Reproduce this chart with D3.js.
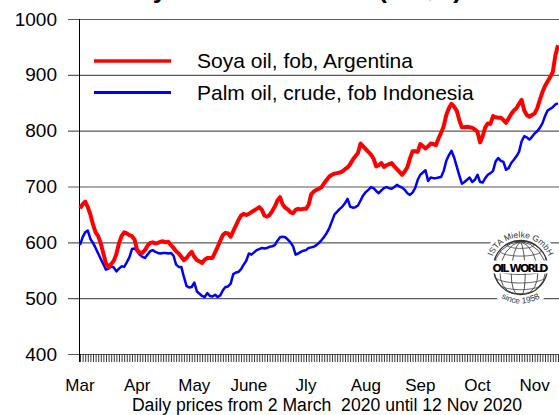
<!DOCTYPE html>
<html>
<head>
<meta charset="utf-8">
<script src="https://cdn.jsdelivr.net/npm/d3@7"></script>
<style>
  body { margin: 0; background: #fff; }
  svg { display: block; font-family: "Liberation Sans", Arial, sans-serif; }
</style>
</head>
<body>
<svg id="chart" width="559" height="415"></svg>
<script>
// daily prices, US$/t, 2 Mar 2020 .. 12 Nov 2020 (trading days)
const soyaOil = [
  661, 668, 673, 663, 650, 632, 618, 611, 598, 580,
  562, 556, 561, 567, 579, 598, 611, 618, 616, 613,
  611, 605, 586, 582, 581, 586, 594, 599, 600, 598,
  599, 601, 602, 600, 601, 595, 590, 584, 580, 574,
  568, 572, 578, 583, 574, 568, 566, 563, 569, 572,
  572, 572, 582, 592, 603, 613, 617, 616, 610, 620,
  630, 640, 648, 651, 649, 651, 654, 657, 660, 663,
  658, 648, 646, 649, 656, 664, 675, 681, 668, 662,
  659, 654, 652, 658, 660, 659, 660, 660, 667, 686,
  691, 694, 696, 699, 706, 712, 718, 721, 723, 724,
  725, 727, 731, 734, 740, 748, 754, 760, 777, 772,
  767, 762, 757, 750, 736, 738, 742, 735, 738, 740,
  742, 736, 731, 726, 721, 727, 734, 750, 763, 763,
  762, 776, 772, 768, 772, 777, 776, 774, 786, 796,
  808, 828, 840, 848, 843, 836, 819, 806, 806, 807,
  806, 805, 802, 798, 779, 790, 806, 813, 812, 826,
  824, 823, 823, 819, 814, 822, 830, 836, 840, 848,
  855, 836, 828, 825, 828, 831, 840, 855, 869, 880,
  888, 896, 905, 935, 953
];
const palmOil = [
  595, 609, 618, 621, 606, 599, 590, 580, 570, 561,
  551, 553, 557, 555, 548, 553, 557, 556, 564, 573,
  588, 589, 584, 578, 574, 572, 578, 584, 586, 583,
  581, 580, 581, 581, 580, 581, 576, 560, 556, 556,
  538, 522, 519, 520, 528, 512, 508, 504, 502, 509,
  504, 503, 506, 502, 505, 514, 520, 521, 526, 543,
  546, 547, 552, 560, 567, 580, 578, 582, 586, 588,
  590, 589, 590, 592, 593, 595, 603, 609, 610, 609,
  605, 600, 593, 578, 580, 583, 585, 586, 590, 591,
  592, 595, 599, 604, 610, 617, 626, 638, 650, 655,
  660, 664, 670, 678, 664, 662, 663, 666, 675, 684,
  690, 694, 699, 697, 692, 688, 693, 697, 699, 697,
  696, 699, 703, 700, 698, 694, 688, 685, 689, 697,
  712, 721, 725, 729, 710, 716, 715, 715, 716, 717,
  728, 746, 756, 764, 752, 736, 720, 705, 708, 712,
  716, 708, 712, 721, 708, 707, 715, 721, 724, 728,
  745, 751, 746, 744, 730, 733, 742, 748, 754, 762,
  781, 790, 788, 784, 789, 795, 799, 805, 813, 826,
  836, 839, 842, 847, 849
];
const seriesNames = ["Soya oil, fob, Argentina", "Palm oil, crude, fob Indonesia"];
const seriesColors = ["#ff0000", "#0000ff"];
const monthLabels = ["Mar", "Apr", "May", "June", "Jly", "Aug", "Sep", "Oct", "Nov"];
const monthStart = [0, 22, 44, 65, 87, 110, 131, 153, 175];   // trading-day index of the 1st of each month
const yTicks = [400, 500, 600, 700, 800, 900, 1000];

const svg = d3.select("#chart");
const W = 559;

const x = d3.scaleLinear().domain([0, soyaOil.length - 1]).range([80, 558]);
const y = d3.scaleLinear().domain([400, 1000]).range([354, 19]);

// title (mostly cut off at the top of the picture)
svg.append("text")
  .attr("x", 462).attr("y", -2)
  .attr("text-anchor", "end")
  .style("font-size", "26px").style("font-weight", "bold")
  .text("Soya Oil vs Palm Oil (US$/t)");

// gridlines + y labels
const yAxis = svg.append("g")
  .attr("transform", "translate(68,0)")
  .call(d3.axisLeft(y).tickValues(yTicks).tickFormat(d3.format("d"))
    .tickSize(-(W - 68)).tickPadding(11));
yAxis.select(".domain").remove();
yAxis.selectAll("line").attr("stroke", "#5a5a5a").attr("stroke-width", 1.2);
yAxis.selectAll("text")
  .attr("fill", "#000")
  .style("font-size", "19px")
  .style("font-family", "'Liberation Sans', Arial, sans-serif");

// daily ticks along the bottom
const xAxis = svg.append("g")
  .attr("transform", "translate(0,354)")
  .call(d3.axisBottom(x).tickValues(d3.range(soyaOil.length)).tickSize(8).tickFormat(""));
xAxis.select(".domain").remove();
xAxis.selectAll("line").attr("stroke", "#222").attr("stroke-width", 0.9);

// vertical axis line
svg.append("line")
  .attr("x1", 79.5).attr("x2", 79.5)
  .attr("y1", y(1000)).attr("y2", 362)
  .attr("stroke", "#000").attr("stroke-width", 1);

// month labels
svg.selectAll(".month")
  .data(monthLabels)
  .enter().append("text")
  .attr("class", "month")
  .attr("x", (d, i) => x(monthStart[i]))
  .attr("y", 391)
  .attr("text-anchor", "middle")
  .style("font-size", "17px")
  .text(d => d);

svg.append("text")
  .attr("x", 327).attr("y", 411)
  .attr("text-anchor", "middle")
  .style("font-size", "17.6px")
  .style("white-space", "pre")
  .text("Daily prices from 2 March  2020 until 12 Nov 2020");

// logo
const cx = 520.5, cy = 267.5, r = 27;
const logo = svg.append("g");
logo.append("circle").attr("cx", cx).attr("cy", cy).attr("r", r + 12).attr("fill", "#fff");
const proj = d3.geoOrthographic().scale(r).translate([cx, cy]).rotate([10, -15]).clipAngle(90);
const gpath = d3.geoPath(proj);
logo.append("path").datum(d3.geoGraticule().step([30, 20])())
  .attr("d", gpath).attr("fill", "none").attr("stroke", "#444").attr("stroke-width", 0.9);
logo.append("circle").attr("cx", cx).attr("cy", cy).attr("r", r)
  .attr("fill", "none").attr("stroke", "#333").attr("stroke-width", 1.3);
logo.append("rect").attr("x", cx - 29).attr("y", cy - 7).attr("width", 58).attr("height", 13)
  .attr("fill", "#fff");
logo.append("text").attr("x", cx).attr("y", cy + 4.5).attr("text-anchor", "middle")
  .style("font-size", "11px").style("font-weight", "bold").style("font-family", "'DejaVu Sans', sans-serif")
  .attr("textLength", 56).text("OIL WORLD");
const rt = r + 3;
logo.append("path").attr("id", "arcTop").attr("fill", "none")
  .attr("d", `M${cx - rt},${cy} A${rt},${rt} 0 0 1 ${cx + rt},${cy}`);
logo.append("text").style("font-size", "8.5px").attr("fill", "#333")
  .append("textPath").attr("href", "#arcTop").attr("startOffset", "50%").attr("text-anchor", "middle")
  .text("ISTA Mielke GmbH");
const rb = r + 9;
logo.append("path").attr("id", "arcBot").attr("fill", "none")
  .attr("d", `M${cx - rb},${cy} A${rb},${rb} 0 0 0 ${cx + rb},${cy}`);
logo.append("text").style("font-size", "8.5px").attr("fill", "#333")
  .append("textPath").attr("href", "#arcBot").attr("startOffset", "50%").attr("text-anchor", "middle")
  .text("since 1958");

// price lines
const line = d3.line().x((d, i) => x(i)).y(d => y(d));
svg.append("path").datum(palmOil)
  .attr("d", line).attr("fill", "none")
  .attr("stroke", seriesColors[1]).attr("stroke-width", 2.5).attr("stroke-linejoin", "round");
svg.append("path").datum(soyaOil)
  .attr("d", line).attr("fill", "none")
  .attr("stroke", seriesColors[0]).attr("stroke-width", 4).attr("stroke-linejoin", "round");

// legend
const legend = svg.selectAll(".legend")
  .data(seriesNames)
  .enter().append("g")
  .attr("class", "legend")
  .attr("transform", (d, i) => `translate(0,${61 + i * 31.5})`);
legend.append("line")
  .attr("x1", 94).attr("x2", 171)
  .attr("stroke", (d, i) => seriesColors[i])
  .attr("stroke-width", (d, i) => i === 0 ? 3.5 : 2.8);
legend.append("text")
  .attr("x", 197).attr("y", 7)
  .style("font-size", "21px")
  .text(d => d);
</script>
</body>
</html>
